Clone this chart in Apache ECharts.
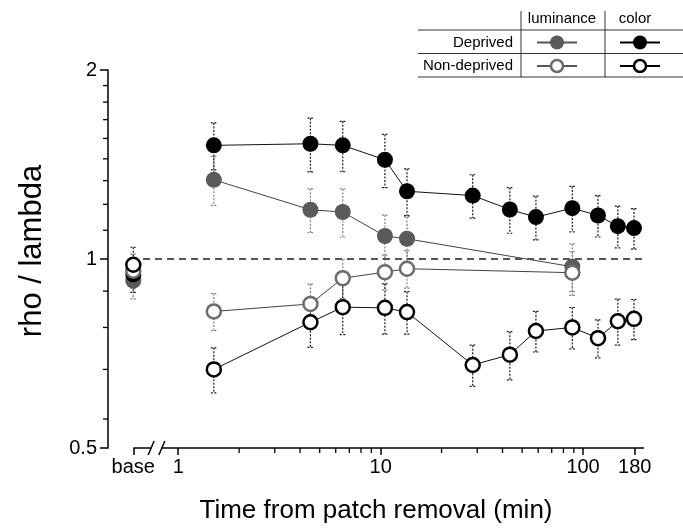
<!DOCTYPE html>
<html>
<head>
<meta charset="utf-8">
<script src="https://cdn.jsdelivr.net/npm/echarts@6/dist/echarts.min.js"></script>
<style>
  html, body { margin: 0; padding: 0; background: #fff; }
  #main { width: 683px; height: 529px; }
</style>
</head>
<body>
<div id="main"></div>
<script>
// time from patch removal (min)
const times = [1.5, 4.5, 6.5, 10.5, 13.5, 28.5, 43.5, 58.5, 88.5, 118.5, 148.5, 178.5];
const lumTimes = [1.5, 4.5, 6.5, 10.5, 13.5, 88.5];

// color condition
const colorDeprived = [1.517, 1.526, 1.517, 1.439, 1.282, 1.262, 1.199, 1.166, 1.205, 1.173, 1.128, 1.120];
const colorDeprivedErr = [0.13, 0.15, 0.14, 0.14, 0.11, 0.10, 0.10, 0.093, 0.10, 0.089, 0.086, 0.083];
const colorNonDeprived = [0.667, 0.793, 0.838, 0.836, 0.823, 0.678, 0.704, 0.768, 0.778, 0.748, 0.796, 0.803];
const colorNonDeprivedErr = [0.055, 0.07, 0.08, 0.077, 0.064, 0.051, 0.062, 0.057, 0.059, 0.052, 0.067, 0.059];

// luminance condition
const lumDeprived = [1.337, 1.198, 1.188, 1.088, 1.077, 0.972];
const lumDeprivedErr = [0.12, 0.096, 0.105, 0.087, 0.09, 0.085];
const lumNonDeprived = [0.825, 0.848, 0.932, 0.953, 0.965, 0.951];
const lumNonDeprivedErr = [0.056, 0.064, 0.067, 0.061, 0.066, 0.076];

// baseline ("base"): lum deprived, color deprived, lum non-deprived, color non-deprived
const baseValues = [0.924, 0.945, 0.958, 0.979];
const baseErr = [0.06, 0.06, 0.06, 0.065];

// axes
const baseX = 0.6;
const xTicks = [0.6, 1, 10, 100, 180];
const xTickLabels = ['base', '1', '10', '100', '180'];
const xMinorTicks = [2, 3, 4, 5, 6, 7, 8, 9, 20, 30, 40, 50, 60, 70, 80, 90];
const yTicks = [0.5, 1, 2];
const yTickLabels = ['0.5', '1', '2'];
const yMinorTicks = [0.556, 0.667, 0.778, 0.889, 1.111, 1.222, 1.333, 1.444, 1.556, 1.667, 1.778, 1.889];

const X_MIN = 0.45, X_MAX = 200, Y_MIN = 0.5, Y_MAX = 2;
const BREAK = [0.735, 0.83];   // gap in the x axis line between base and 1
const FONT = 'Liberation Sans, Arial, sans-serif';

const chart = echarts.init(document.getElementById('main'));

function pairs(xs, ys) { return xs.map((x, i) => [x, ys[i]]); }
function triples(xs, ys, es) { return xs.map((x, i) => [x, ys[i], es[i]]); }

function errSeries(data, color) {
  return {
    type: 'custom',
    silent: true,
    clip: false,
    z: 1,
    data: data,
    renderItem: function (params, api) {
      const x = api.value(0), y = api.value(1), e = api.value(2);
      const top = api.coord([x, y + e]);
      const bot = api.coord([x, y - e]);
      const style = { stroke: color, lineWidth: 1.2, lineDash: [2, 1.5] };
      return {
        type: 'group',
        children: [
          { type: 'line', shape: { x1: top[0], y1: top[1], x2: bot[0], y2: bot[1] }, style: style },
          { type: 'line', shape: { x1: top[0] - 3, y1: top[1], x2: top[0] + 3, y2: top[1] }, style: style },
          { type: 'line', shape: { x1: bot[0] - 3, y1: bot[1], x2: bot[0] + 3, y2: bot[1] }, style: style }
        ]
      };
    }
  };
}

// outward tick marks for the minor values of each axis
function minorTickSeries(data, dx, dy) {
  return {
    type: 'custom',
    silent: true,
    clip: false,
    z: 2,
    data: data,
    renderItem: function (params, api) {
      const p = api.coord([api.value(0), api.value(1)]);
      return {
        type: 'line',
        shape: { x1: p[0], y1: p[1], x2: p[0] + dx, y2: p[1] + dy },
        style: { stroke: '#000', lineWidth: 1.3 }
      };
    }
  };
}

const styles = {
  lumDep: { fill: '#5a5a5a', border: '#5a5a5a', bw: 0, size: 16, line: '#444', err: '#808080' },
  colDep: { fill: '#000', border: '#000', bw: 0, size: 16, line: '#111', err: '#1a1a1a' },
  lumNon: { fill: '#fff', border: '#6c6c6c', bw: 2.5, size: 14, line: '#444', err: '#808080' },
  colNon: { fill: '#fff', border: '#000', bw: 2.5, size: 14, line: '#111', err: '#1a1a1a' }
};

function pointSeries(data, st, z, withLine) {
  return {
    type: withLine ? 'line' : 'scatter',
    data: data,
    z: z,
    symbol: 'circle',
    symbolSize: st.size,
    lineStyle: { color: st.line, width: 1 },
    itemStyle: { color: st.fill, borderColor: st.border, borderWidth: st.bw, opacity: 1 },
    emphasis: { disabled: true },
    animation: false
  };
}

// x axis line in two pieces with a "//" break
const axisSeries = {
  type: 'custom',
  silent: true,
  clip: false,
  z: 2,
  data: [[baseX, Y_MIN]],
  renderItem: function (params, api) {
    const a = api.coord([baseX, Y_MIN]);
    const b1 = api.coord([BREAK[0], Y_MIN]);
    const b2 = api.coord([BREAK[1], Y_MIN]);
    const e = api.coord([X_MAX, Y_MIN]);
    const ls = { stroke: '#000', lineWidth: 1.5 };
    return {
      type: 'group',
      children: [
        { type: 'line', shape: { x1: a[0], y1: a[1], x2: b1[0], y2: b1[1] }, style: ls },
        { type: 'line', shape: { x1: b2[0], y1: b2[1], x2: e[0], y2: e[1] }, style: ls },
        { type: 'line', shape: { x1: b1[0] - 3, y1: b1[1] + 7, x2: b1[0] + 3, y2: b1[1] - 7 }, style: ls },
        { type: 'line', shape: { x1: b2[0] - 3, y1: b2[1] + 7, x2: b2[0] + 3, y2: b2[1] - 7 }, style: ls }
      ]
    };
  }
};

const refLine = {
  type: 'line',
  data: [],
  markLine: {
    silent: true,
    symbol: 'none',
    animation: false,
    label: { show: false },
    lineStyle: { color: '#555', width: 2, type: [7, 5] },
    data: [[{ coord: [0.67, 1] }, { coord: [X_MAX, 1] }]]
  },
  z: 1
};

// legend table (top right)
const legendGraphics = [];
const lineCol = '#333';
const LFONT = '15px ' + FONT;
[30, 53.5, 77].forEach(y => legendGraphics.push({ type: 'line', shape: { x1: 418, y1: y, x2: 683, y2: y }, style: { stroke: lineCol, lineWidth: 1 } }));
[521, 605].forEach(x => legendGraphics.push({ type: 'line', shape: { x1: x, y1: 11, x2: x, y2: 77 }, style: { stroke: lineCol, lineWidth: 1 } }));
legendGraphics.push({ type: 'text', x: 562, y: 19, style: { text: 'luminance', font: LFONT, fill: '#000', align: 'center', verticalAlign: 'middle' } });
legendGraphics.push({ type: 'text', x: 635, y: 19, style: { text: 'color', font: LFONT, fill: '#000', align: 'center', verticalAlign: 'middle' } });
legendGraphics.push({ type: 'text', x: 513, y: 42.5, style: { text: 'Deprived', font: LFONT, fill: '#000', align: 'right', verticalAlign: 'middle' } });
legendGraphics.push({ type: 'text', x: 513, y: 66, style: { text: 'Non-deprived', font: LFONT, fill: '#000', align: 'right', verticalAlign: 'middle' } });
function legendMark(cx, cy, st, lineColor) {
  legendGraphics.push({ type: 'line', shape: { x1: cx - 20, y1: cy, x2: cx + 20, y2: cy }, style: { stroke: lineColor, lineWidth: 2 } });
  legendGraphics.push({ type: 'circle', shape: { cx: cx, cy: cy, r: st.bw ? 6 : 7 }, style: { fill: st.fill, stroke: st.border, lineWidth: st.bw } });
}
legendMark(557, 42.5, styles.lumDep, '#555');
legendMark(640, 42.5, styles.colDep, '#000');
legendMark(557, 66, styles.lumNon, '#555');
legendMark(640, 66, styles.colNon, '#000');

function xLabel(v) {
  let best = 0;
  xTicks.forEach((t, i) => { if (Math.abs(Math.log(t) - Math.log(v)) < Math.abs(Math.log(xTicks[best]) - Math.log(v))) best = i; });
  return xTickLabels[best];
}
function yLabel(v) {
  let best = 0;
  yTicks.forEach((t, i) => { if (Math.abs(t - v) < Math.abs(yTicks[best] - v)) best = i; });
  return yTickLabels[best];
}

const option = {
  animation: false,
  backgroundColor: '#fff',
  textStyle: { fontFamily: FONT },
  grid: { left: 108, right: 39, top: 70, bottom: 81, outerBoundsMode: 'none' },
  xAxis: {
    type: 'log', logBase: 10, min: X_MIN, max: X_MAX,
    axisLine: { show: false },
    axisTick: { show: true, interval: 0, customValues: xTicks, length: 7, lineStyle: { color: '#000', width: 1.5 } },
    axisLabel: { show: true, interval: 0, customValues: xTicks, formatter: xLabel, fontSize: 20, color: '#000', margin: 9, fontFamily: FONT },
    splitLine: { show: false },
    name: 'Time from patch removal (min)',
    nameLocation: 'middle', nameGap: 50,
    nameTextStyle: { fontSize: 26, color: '#000', fontFamily: FONT }
  },
  yAxis: {
    type: 'log', logBase: 2, min: Y_MIN, max: Y_MAX,
    axisLine: { show: true, lineStyle: { color: '#000', width: 1.5 } },
    axisTick: { show: true, interval: 0, customValues: yTicks, length: 8, lineStyle: { color: '#000', width: 1.5 } },
    axisLabel: { show: true, interval: 0, customValues: yTicks, formatter: yLabel, fontSize: 20, color: '#000', margin: 11, fontFamily: FONT },
    splitLine: { show: false },
    name: 'rho / lambda',
    nameLocation: 'middle', nameGap: 60,
    nameTextStyle: { fontSize: 31, color: '#000', fontFamily: FONT, padding: [0, 0, 0, 16] }
  },
  graphic: legendGraphics,
  series: [
    refLine,
    axisSeries,
    minorTickSeries(xMinorTicks.map(v => [v, Y_MIN]), 0, 5),
    minorTickSeries(yMinorTicks.map(v => [X_MIN, v]), -5, 0),
    errSeries(triples(lumTimes, lumDeprived, lumDeprivedErr), styles.lumDep.err),
    errSeries(triples(lumTimes, lumNonDeprived, lumNonDeprivedErr), styles.lumNon.err),
    errSeries(triples(times, colorDeprived, colorDeprivedErr), styles.colDep.err),
    errSeries(triples(times, colorNonDeprived, colorNonDeprivedErr), styles.colNon.err),
    errSeries([[baseX, baseValues[0], baseErr[0]], [baseX, baseValues[2], baseErr[2]]], styles.lumDep.err),
    errSeries([[baseX, baseValues[1], baseErr[1]], [baseX, baseValues[3], baseErr[3]]], styles.colDep.err),
    pointSeries(pairs(lumTimes, lumDeprived), styles.lumDep, 3, true),
    pointSeries(pairs(times, colorDeprived), styles.colDep, 4, true),
    pointSeries(pairs(lumTimes, lumNonDeprived), styles.lumNon, 5, true),
    pointSeries(pairs(times, colorNonDeprived), styles.colNon, 6, true),
    pointSeries([[baseX, baseValues[0]]], styles.lumDep, 3, false),
    pointSeries([[baseX, baseValues[1]]], styles.colDep, 4, false),
    pointSeries([[baseX, baseValues[2]]], styles.lumNon, 5, false),
    pointSeries([[baseX, baseValues[3]]], styles.colNon, 6, false)
  ]
};

chart.setOption(option);
</script>
</body>
</html>
